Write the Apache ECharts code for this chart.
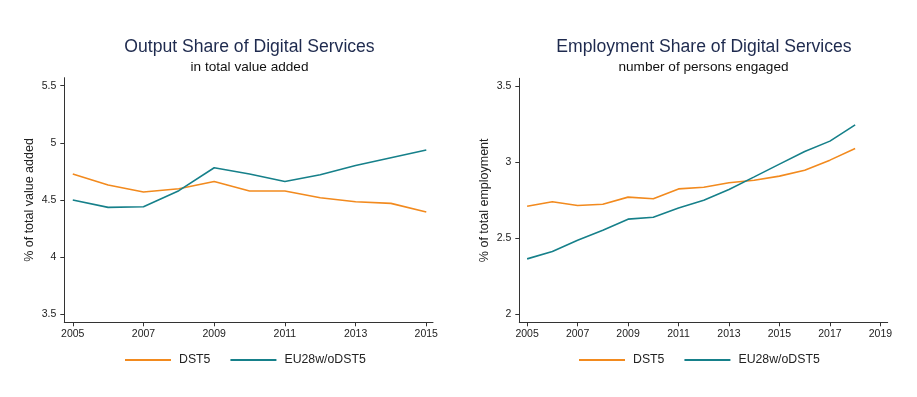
<!DOCTYPE html>
<html>
<head>
<meta charset="utf-8">
<script src="https://cdn.jsdelivr.net/npm/echarts@6/dist/echarts.min.js"></script>
<style>
    html, body {margin:0;padding:0;background:#ffffff;}
    #chart {width:917px;height:397px;}
</style>
</head>
<body>
<div id="chart"></div>
<script>
    // output share (left)
    var yearsOut = [2005, 2006, 2007, 2008, 2009, 2010, 2011, 2012, 2013, 2014, 2015];
    var outDST5 = [4.726, 4.63, 4.568, 4.597, 4.661, 4.577, 4.577, 4.518, 4.483, 4.469, 4.393];
    var outEU = [4.498, 4.434, 4.44, 4.58, 4.781, 4.726, 4.661, 4.72, 4.80, 4.869, 4.936];
    var outXTicks = [2005, 2007, 2009, 2011, 2013, 2015];
    var outYTicks = [3.5, 4, 4.5, 5, 5.5];

    // employment share (right)
    var yearsEmp = [2005, 2006, 2007, 2008, 2009, 2010, 2011, 2012, 2013, 2014, 2015, 2016, 2017, 2018];
    var empDST5 = [2.708, 2.737, 2.713, 2.721, 2.768, 2.757, 2.822, 2.833, 2.862, 2.879, 2.906, 2.945, 3.011, 3.088];
    var empEU = [2.362, 2.41, 2.485, 2.55, 2.623, 2.636, 2.697, 2.748, 2.818, 2.901, 2.985, 3.068, 3.136, 3.243];
    var empXTicks = [2005, 2007, 2009, 2011, 2013, 2015, 2017, 2019];
    var empYTicks = [2, 2.5, 3, 3.5];

    var orange = '#f28a1e';
    var teal = '#16808a';
    var font = 'Liberation Sans, Arial, sans-serif';

    function pairs(xs, ys) {
        var out = [];
        for (var i = 0; i < xs.length; i++) out.push([xs[i], ys[i]]);
        return out;
    }

    function xAxisOf(idx, min, max, ticks) {
        return {
            type: 'value', gridIndex: idx, min: min, max: max,
            splitLine: {show: false},
            axisLine: {lineStyle: {color: '#333', width: 1}},
            axisTick: {show: true, length: 4, customValues: ticks, lineStyle: {color: '#333'}},
            axisLabel: {customValues: ticks, margin: 6, fontSize: 10.5, color: '#222', fontFamily: font,
                formatter: function (v) { return String(v); }}
        };
    }

    function yAxisOf(idx, min, max, ticks, name) {
        return {
            type: 'value', gridIndex: idx, min: min, max: max,
            name: name, nameLocation: 'middle', nameGap: 28,
            nameTextStyle: {fontSize: 12.5, color: '#222', fontFamily: font},
            splitLine: {show: false},
            axisLine: {show: true, lineStyle: {color: '#333', width: 1}},
            axisTick: {show: true, length: 4, customValues: ticks, lineStyle: {color: '#333'}},
            axisLabel: {customValues: ticks, margin: 8, fontSize: 10.5, color: '#222', fontFamily: font,
                formatter: function (v) { return String(v); }}
        };
    }

    function lineSeries(name, color, idx, data) {
        return {
            name: name, type: 'line', xAxisIndex: idx, yAxisIndex: idx,
            data: data, showSymbol: false, symbol: 'none',
            lineStyle: {color: color, width: 1.6}, itemStyle: {color: color}
        };
    }

    var chart = echarts.init(document.getElementById('chart'));

    var legendBase = {
        orient: 'horizontal', icon: 'rect', itemWidth: 46, itemHeight: 2, itemGap: 20,
        top: 354, padding: 0,
        textStyle: {fontSize: 12.3, color: '#222', fontFamily: font, padding: [0, 0, 0, 3]},
        data: ['DST5', 'EU28w/oDST5']
    };

    var option = {
        animation: false,
        backgroundColor: '#ffffff',
        title: [
            {text: 'Output Share of Digital Services', left: 249.5, top: 38.5, textAlign: 'center', padding: 0,
                textStyle: {fontSize: 17.6, fontWeight: 'normal', color: '#1e2a4e', fontFamily: font}},
            {text: 'in total value added', left: 249.5, top: 60, textAlign: 'center', padding: 0,
                textStyle: {fontSize: 13.6, fontWeight: 'normal', color: '#111', fontFamily: font}},
            {text: 'Employment Share of Digital Services', left: 704, top: 38.5, textAlign: 'center', padding: 0,
                textStyle: {fontSize: 17.6, fontWeight: 'normal', color: '#1e2a4e', fontFamily: font}},
            {text: 'number of persons engaged', left: 703.5, top: 60, textAlign: 'center', padding: 0,
                textStyle: {fontSize: 13.6, fontWeight: 'normal', color: '#111', fontFamily: font}}
        ],
        legend: [
            Object.assign({}, legendBase, {left: 125}),
            Object.assign({}, legendBase, {left: 579})
        ],
        grid: [
            {left: 64.3, top: 77.7, width: 368.7, height: 244.6},
            {left: 519.3, top: 78.3, width: 368.4, height: 244}
        ],
        xAxis: [
            xAxisOf(0, 2004.76, 2015.19, outXTicks),
            xAxisOf(1, 2004.69, 2019.29, empXTicks)
        ],
        yAxis: [
            yAxisOf(0, 3.427, 5.57, outYTicks, '% of total value added'),
            yAxisOf(1, 1.945, 3.549, empYTicks, '% of total employment')
        ],
        series: [
            lineSeries('DST5', orange, 0, pairs(yearsOut, outDST5)),
            lineSeries('EU28w/oDST5', teal, 0, pairs(yearsOut, outEU)),
            lineSeries('DST5', orange, 1, pairs(yearsEmp, empDST5)),
            lineSeries('EU28w/oDST5', teal, 1, pairs(yearsEmp, empEU))
        ]
    };

    chart.setOption(option);

    window.onresize = function () {
        chart.resize();
    };
</script>
</body>
</html>
